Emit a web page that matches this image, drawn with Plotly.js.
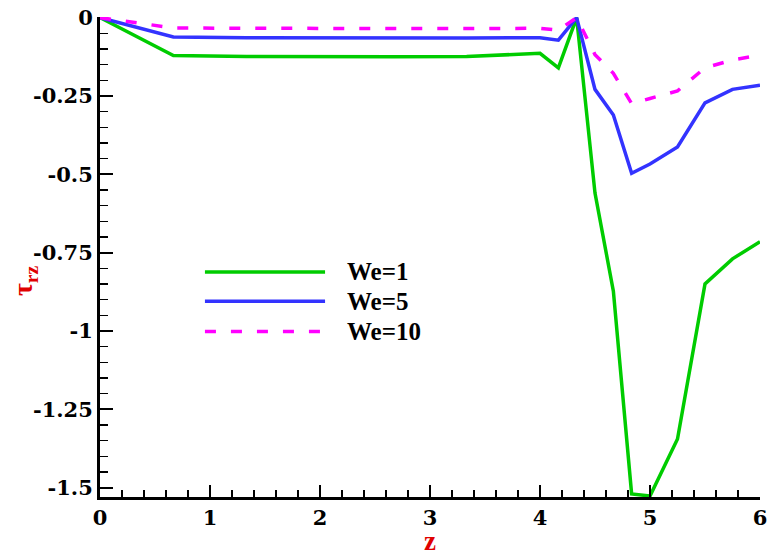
<!DOCTYPE html>
<html>
<head>
<meta charset="utf-8">
<script src="https://cdn.plot.ly/plotly-3.0.1.min.js"></script>
<style>
  html, body { margin: 0; padding: 0; background: #fff; }
  #chart { width: 767px; height: 556px; }
</style>
</head>
<body>
<div id="chart"></div>
<script>
// Axial positions along z
const zValues = [0, 0.667, 1.333, 2, 2.667, 3.333, 4, 4.167, 4.333, 4.5, 4.667, 4.833, 5, 5.25, 5.5, 5.75, 6];

// Shear stress tau_rz for each Weissenberg number
const tauWe1  = [0, -0.121, -0.124, -0.125, -0.125, -0.124, -0.114, -0.160, 0, -0.560, -0.873, -1.520, -1.527, -1.345, -0.850, -0.770, -0.715];
const tauWe5  = [0, -0.062, -0.064, -0.065, -0.066, -0.065, -0.064, -0.072, 0, -0.229, -0.311, -0.497, -0.467, -0.413, -0.272, -0.229, -0.216];
const tauWe10 = [0, -0.033, -0.034, -0.035, -0.035, -0.035, -0.034, -0.040, 0, -0.118, -0.178, -0.274, -0.258, -0.234, -0.160, -0.135, -0.120];

const seriesNames = ['We=1', 'We=5', 'We=10'];
const seriesColors = ['#00cc00', '#3333ff', '#ff00ff'];
const seriesDash = ['solid', 'solid', '11px,15px'];

const yTickVals = [0, -0.25, -0.5, -0.75, -1, -1.25, -1.5];
const yTickText = ['<b>0</b>', '<b>-0.25</b>', '<b>-0.5</b>', '<b>-0.75</b>', '<b>-1</b>', '<b>-1.25</b>', '<b>-1.5</b>'];
const xTickVals = [0, 1, 2, 3, 4, 5, 6];
const xTickText = ['<b>0</b>', '<b>1</b>', '<b>2</b>', '<b>3</b>', '<b>4</b>', '<b>5</b>', '<b>6</b>'];

const FONT = 'Liberation Serif';
const TICK_FONT = 'DejaVu Serif';

const ys = [tauWe1, tauWe5, tauWe10];
const traces = ys.map((y, i) => ({
  type: 'scatter',
  mode: 'lines',
  x: zValues,
  y: y,
  name: seriesNames[i],
  showlegend: false,
  line: { color: seriesColors[i], width: 3.5, dash: seriesDash[i] }
}));

// Hand-placed legend with long line samples
const legendRows = [0.469, 0.408, 0.345];
const shapes = legendRows.map((yy, i) => ({
  type: 'line', xref: 'paper', yref: 'paper',
  x0: 0.159, x1: 0.341, y0: yy, y1: yy,
  line: { color: seriesColors[i], width: 3.5, dash: seriesDash[i] }
}));
const annotations = legendRows.map((yy, i) => ({
  xref: 'paper', yref: 'paper', x: 0.371, y: yy,
  xanchor: 'left', yanchor: 'middle', showarrow: false,
  text: '<b>' + seriesNames[i] + '</b>',
  font: { family: FONT, size: 25, color: '#000' }
}));
// y-axis title
annotations.push({
  xref: 'paper', yref: 'paper', x: -0.115, y: 0.45,
  xanchor: 'center', yanchor: 'middle', showarrow: false,
  textangle: -90,
  text: '<b>τ<sub>rz</sub></b>',
  font: { family: FONT, size: 28, color: '#e00000' }
});

const layout = {
  width: 767, height: 556,
  margin: { l: 100, r: 7, t: 17, b: 59 },
  paper_bgcolor: '#fff', plot_bgcolor: '#fff',
  font: { family: FONT },
  showlegend: false,
  xaxis: {
    range: [0, 6],
    tickvals: xTickVals, ticktext: xTickText,
    ticklabeloverflow: 'allow',
    ticks: 'inside', ticklen: 12, tickwidth: 2, tickcolor: '#000',
    minor: { dtick: 0.2, ticks: 'inside', ticklen: 7, tickwidth: 1.5, tickcolor: '#000', showgrid: false },
    showline: true, linewidth: 3, linecolor: '#000',
    showgrid: false, zeroline: false,
    tickfont: { family: TICK_FONT, size: 21, color: '#000' },
    title: { text: '<b>z</b>', font: { family: FONT, size: 27, color: '#e00000' }, standoff: 8 }
  },
  yaxis: {
    range: [-1.53, 0.002],
    tickvals: yTickVals, ticktext: yTickText,
    ticklabeloverflow: 'allow',
    ticks: 'inside', ticklen: 13, tickwidth: 2, tickcolor: '#000',
    minor: { dtick: 0.05, ticks: 'inside', ticklen: 8, tickwidth: 1.5, tickcolor: '#000', showgrid: false },
    showline: true, linewidth: 3, linecolor: '#000',
    showgrid: false, zeroline: false,
    tickfont: { family: TICK_FONT, size: 21, color: '#000' }
  },
  shapes: shapes,
  annotations: annotations
};

Plotly.newPlot('chart', traces, layout, { staticPlot: true, displayModeBar: false });
</script>
</body>
</html>
